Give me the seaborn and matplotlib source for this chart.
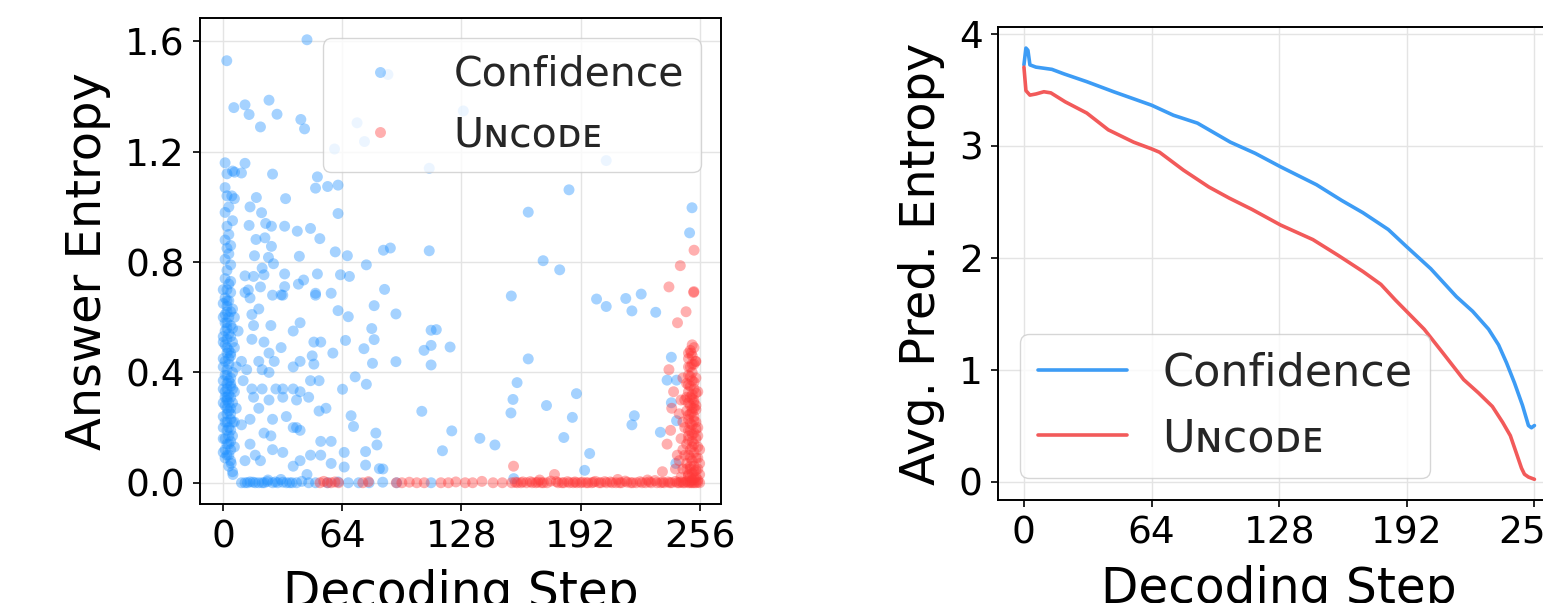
import pandas as pd
import seaborn as sns
import matplotlib
matplotlib.use("Agg")
import matplotlib.pyplot as plt

# ---- scatter data: (decoding step, answer entropy) ----
conf_points = [
    # dense column right at the start
    (1, 0.74), (3, 0.72), (2, 0.70), (4, 0.69), (1, 0.67), (3, 0.66), (2, 0.64), (5, 0.63),
    (1, 0.61), (3, 0.60), (2, 0.58), (4, 0.57), (1, 0.55), (3, 0.54), (2, 0.52), (5, 0.51),
    (1, 0.50), (3, 0.48), (2, 0.47), (4, 0.46), (1, 0.44), (3, 0.43), (2, 0.41), (5, 0.40),
    (1, 0.39), (3, 0.37), (2, 0.36), (4, 0.35), (1, 0.33), (3, 0.32), (2, 0.30), (5, 0.29),
    (1, 0.28), (3, 0.26), (2, 0.25), (4, 0.23), (1, 0.22), (3, 0.20), (2, 0.19), (5, 0.17),
    (1, 0.16), (3, 0.14), (4, 0.12), (2, 0.10), (4, 0.08), (3, 0.06), (5, 0.04), (2, 0.31),
    (4, 0.38), (0, 0.45), (0, 0.53), (5, 0.56), (0, 0.34), (0, 0.20), (4, 0.27), (1, 0.12),
    (6, 0.49), (6, 0.33), (7, 0.42), (6, 0.22), (2, 0.77), (4, 0.79), (1, 0.81), (3, 0.83),
    (2, 0.85), (4, 0.86), (1, 0.88), (3, 0.90), (2, 0.93), (5, 0.95), (1, 0.98), (3, 1.00),
    (2, 1.04), (1, 1.07), (2, 1.12), (1, 1.16), (5, 1.13), (6, 1.03), (4, 0.73), (4.3, 0.07),
    (5.2, 0.03), (0, 0.70), (2, 0.66), (4, 0.62), (0, 0.60), (2, 0.56), (4, 0.53), (0, 0.51),
    (2, 0.49), (4, 0.47), (0, 0.42), (2, 0.39), (4, 0.36), (0, 0.37), (2, 0.34), (4, 0.31),
    (0, 0.29), (2, 0.27), (4, 0.25), (0, 0.24), (2, 0.22), (4, 0.19), (0, 0.16), (2, 0.14),
    (4, 0.15), (0, 0.11), (3, 0.10), (1, 0.09), (6, 0.60), (7, 0.27), (6, 0.13), (8, 0.55),
    (1, 0.58), (3, 0.45), (5, 0.34), (3, 0.29), (5, 0.22), (1, 0.31), (3, 0.17), (0, 0.65),
    (2, 0.62),
    # upper scattered points
    (1.9, 1.53), (45, 1.606), (88.5, 1.48), (5.7, 1.36), (11.7, 1.37), (13.9, 1.335),
    (24.6, 1.387), (28.9, 1.336), (20, 1.29), (41.7, 1.317), (43.7, 1.283), (71.9, 1.305),
    (75.9, 1.237), (129, 1.348), (59.8, 1.21), (205.8, 1.168), (110.7, 1.14), (11.7, 1.158),
    (6.1, 1.126), (9.8, 1.123), (26.5, 1.119), (50.6, 1.109), (49.6, 1.068), (56.1, 1.074),
    (61.7, 1.079), (4.6, 1.04), (17.8, 1.034), (33.5, 1.03), (185.8, 1.062), (14.4, 1.0),
    (20.6, 0.979), (61.7, 0.976), (163.9, 0.981), (251.9, 0.997), (13.9, 0.933), (22.8, 0.94),
    (25.9, 0.93), (33, 0.93), (39.8, 0.912), (46.9, 0.922), (250.6, 0.906), (17.6, 0.882),
    (22.4, 0.888), (25.9, 0.857), (16.8, 0.823), (24.3, 0.817), (27, 0.794), (20.9, 0.778),
    (33, 0.757), (40.9, 0.821), (51.9, 0.885), (60.2, 0.837), (66.7, 0.823), (86.1, 0.843),
    (89.8, 0.851), (110.7, 0.841), (171.9, 0.805), (180.8, 0.772), (76.9, 0.79),
    (154.8, 0.677), (200.6, 0.666), (216.3, 0.668), (224.6, 0.684), (86.7, 0.701), (58, 0.687),
    (49.6, 0.687), (63, 0.754), (67.8, 0.748), (50.6, 0.757), (43.2, 0.735), (33, 0.711),
    (11.7, 0.75), (16.3, 0.748), (21.9, 0.754), (31.1, 0.681), (13.5, 0.699),
    # middle / right scattered points
    (219.6, 0.623), (205.8, 0.639), (232.4, 0.618), (81.1, 0.642), (92.8, 0.612), (61.7, 0.624),
    (67.2, 0.602), (111.7, 0.553), (114.5, 0.555), (79.8, 0.559), (81.1, 0.519), (65.7, 0.516),
    (75.6, 0.486), (80.2, 0.433), (92.8, 0.439), (107.9, 0.48), (111.7, 0.498), (121.9, 0.492),
    (111.7, 0.427), (163.9, 0.449), (240.8, 0.455), (238.5, 0.372), (243.6, 0.372), (70.9, 0.384),
    (76.9, 0.357), (64.1, 0.339), (157.9, 0.363), (155.7, 0.302), (189.8, 0.323), (173.7, 0.28),
    (154.6, 0.253), (187.6, 0.237), (106.7, 0.259), (68.7, 0.243), (70, 0.204), (220.9, 0.243),
    (219.6, 0.21), (240.8, 0.29), (243.6, 0.225), (234.9, 0.183), (122.8, 0.188), (82, 0.18),
    (82.6, 0.137), (76.5, 0.113), (137.9, 0.161), (146, 0.137), (183, 0.164), (117.8, 0.116),
    (196.9, 0.106), (194.2, 0.045), (156.1, 0.015), (65, 0.11), (65, 0.057), (76.5, 0.064),
    (83.9, 0.051), (85.8, 0.05), (243.2, 0.07),
    # cloud between steps 8 and 60
    (11.7, 0.69), (14.4, 0.67), (20, 0.71), (26.5, 0.68), (32, 0.68), (40.4, 0.72), (49.6, 0.68),
    (15.4, 0.61), (19.1, 0.63), (25.6, 0.57), (16.3, 0.57), (37.6, 0.55), (41.3, 0.58),
    (48.7, 0.51), (52.4, 0.51), (58.9, 0.47), (15.4, 0.52), (21.9, 0.51), (24.6, 0.47),
    (31.1, 0.49), (27.4, 0.44), (19.1, 0.44), (9.8, 0.44), (12.6, 0.41), (20.9, 0.41),
    (24.6, 0.40), (37.6, 0.42), (41.3, 0.44), (47.8, 0.46), (48.7, 0.43), (10.7, 0.37),
    (15.4, 0.34), (20.9, 0.34), (28.3, 0.34), (32, 0.34), (37.6, 0.34), (41.3, 0.33),
    (46.9, 0.37), (51.5, 0.37), (16.3, 0.31), (24.6, 0.30), (32, 0.31), (39.4, 0.30),
    (45.9, 0.31), (19.1, 0.27), (14.4, 0.23), (26.5, 0.23), (33.9, 0.24), (39.4, 0.20),
    (51.5, 0.26), (55.2, 0.27), (9.8, 0.21), (21.9, 0.18), (25.6, 0.17), (37.6, 0.20),
    (41.3, 0.19), (52.4, 0.15), (58, 0.15), (14.4, 0.14), (17.2, 0.10), (26.5, 0.12),
    (32, 0.11), (41.3, 0.08), (46.9, 0.10), (52.4, 0.10), (58, 0.07), (11.7, 0.08),
    (20, 0.08), (37.6, 0.06), (45, 0.03),
    # bottom row
    (9.8, 0.0), (11.7, 0.0), (14.4, 0.003), (17.2, 0.0), (20.9, 0.0), (23.7, 0.004),
    (26.5, 0.0), (29.3, 0.0), (32, 0.002), (35.7, 0.0), (39.4, 0.0), (42.2, 0.005),
    (45.9, 0.0), (49.6, 0.0), (56.1, 0.0), (61.7, 0.003), (67.2, 0.0), (72.8, 0.0),
    (78.4, 0.0), (85.7, 0.002), (93.2, 0.0), (111.7, 0.0), (24, 0.01), (31, 0.012),
    (13, 0.0), (16, 0.002), (19, 0.0), (22, 0.0), (28, 0.003), (34, 0.0), (37, 0.0),
]

uncode_points = [
    # bottom row
    (52, 0.0), (54, 0.005), (56, 0.0), (58, 0.0), (60, 0.003), (62, 0.0), (75, 0.0),
    (78, 0.004), (93, 0.0), (96, 0.0), (100, 0.002), (104, 0.0), (108, 0.0), (117, 0.0),
    (121, 0.0), (125, 0.003), (130, 0.0), (134, 0.0), (139, 0.005), (145, 0.0), (150, 0.0),
    (155, 0.0), (157, 0.002), (160, 0.0), (163, 0.0), (165, 0.004), (168, 0.0), (171, 0.0),
    (174, 0.0), (176, 0.006), (178, 0.03), (180, 0.0), (183, 0.0), (185, 0.004), (188, 0.0),
    (190, 0.0), (193, 0.002), (195, 0.0), (198, 0.0), (200, 0.005), (203, 0.0), (206, 0.0),
    (208, 0.003), (211, 0.0), (214, 0.0), (216, 0.006), (219, 0.0), (222, 0.0), (224, 0.004),
    (227, 0.0), (230, 0.0), (232, 0.008), (235, 0.0), (237, 0.0), (239, 0.003), (241, 0.0),
    (243, 0.005), (245, 0.0), (247, 0.0), (249, 0.004), (251, 0.0), (253, 0.0), (255, 0.002),
    (256, 0.0), (170, 0.01), (212, 0.012), (228, 0.01), (250, 0.0), (252, 0.0), (254, 0.0),
    (158, 0.0), (161, 0.003), (166, 0.0), (169, 0.002), (172, 0.0), (179, 0.004), (182, 0.0),
    (186, 0.0), (189, 0.003), (192, 0.0), (196, 0.0), (199, 0.002), (202, 0.0), (205, 0.004),
    (209, 0.0), (213, 0.0), (217, 0.002), (220, 0.0), (225, 0.0), (229, 0.003), (233, 0.0),
    (236, 0.002), (240, 0.0), (244, 0.0), (246, 0.003), (248, 0.0),
    # column at the end of decoding
    (252, 0.01), (254, 0.02), (250, 0.03), (253, 0.04), (255, 0.05), (251, 0.06), (249, 0.07),
    (252, 0.08), (254, 0.09), (250, 0.10), (253, 0.11), (251, 0.12), (255, 0.13), (249, 0.14),
    (252, 0.15), (254, 0.16), (250, 0.17), (253, 0.18), (251, 0.19), (248, 0.20), (252, 0.21),
    (254, 0.22), (250, 0.23), (253, 0.24), (251, 0.25), (249, 0.26), (252, 0.27), (254, 0.28),
    (250, 0.29), (253, 0.30), (251, 0.31), (252, 0.32), (250, 0.33), (253, 0.34), (251, 0.35),
    (249, 0.36), (252, 0.37), (254, 0.38), (250, 0.39), (252, 0.40), (251, 0.42), (253, 0.43),
    (250, 0.45), (252, 0.46), (251, 0.48), (253, 0.49), (246, 0.02), (247, 0.05), (245, 0.08),
    (247, 0.12), (246, 0.16), (244, 0.10), (255, 0.01), (256, 0.03), (256, 0.07), (255, 0.20),
    (256, 0.12), (248, 0.30), (247, 0.38), (255, 0.33), (254, 0.44), (245, 0.25), (243, 0.05),
    (251, 0.02), (253, 0.06), (252, 0.13), (250, 0.19), (253, 0.27), (251, 0.05),
    (251, 0.005), (253, 0.015), (250, 0.025), (252, 0.035), (254, 0.045), (251, 0.09),
    (253, 0.14), (250, 0.155), (252, 0.175), (254, 0.195), (251, 0.215), (253, 0.225),
    (250, 0.245), (252, 0.255), (254, 0.265), (251, 0.28), (253, 0.29), (249, 0.31),
    (252, 0.305), (254, 0.325), (250, 0.355), (253, 0.365), (251, 0.385), (252, 0.43),
    (250, 0.47), (255, 0.09), (255, 0.17), (248, 0.10), (249, 0.05), (247, 0.22), (246, 0.30),
    # scattered above
    (239.5, 0.41), (241, 0.27), (238.5, 0.14), (240.4, 0.19), (244.1, 0.58), (248.7, 0.62),
    (252.8, 0.69), (239.5, 0.71), (245.6, 0.787), (253, 0.843), (252.9, 0.693), (156, 0.06),
    (242, 0.33), (236, 0.04), (251.5, 0.47), (253.8, 0.44), (250, 0.42), (252, 0.50),
]

# ---- line data: average predictive entropy per decoding step ----
conf_curve_step = [0, 1, 2, 3, 6, 10, 14, 20, 31.5, 45, 64, 75, 87, 103.5, 116, 128.7, 146.7,
                   159.3, 170, 182.7, 191.7, 204, 216.9, 225, 233, 238, 242, 246, 250, 253,
                   254.5, 256]
conf_curve_val = [3.72, 3.87, 3.85, 3.72, 3.70, 3.69, 3.68, 3.64, 3.57, 3.48, 3.36, 3.27, 3.20,
                  3.03, 2.93, 2.81, 2.65, 2.51, 2.40, 2.25, 2.10, 1.90, 1.65, 1.52, 1.36, 1.22,
                  1.06, 0.88, 0.68, 0.50, 0.48, 0.50]
uncode_curve_step = [0, 1, 3, 6, 10, 13.5, 20.7, 31.5, 42.3, 55, 64, 68, 80, 92.7, 103, 114.3,
                     128.7, 144.9, 157.5, 170, 179, 186.3, 200.7, 210, 220.5, 228, 234.9, 240,
                     243.9, 247, 249.5, 251, 253, 256]
uncode_curve_val = [3.70, 3.49, 3.45, 3.46, 3.48, 3.47, 3.39, 3.29, 3.14, 3.03, 2.97, 2.94, 2.78,
                    2.63, 2.53, 2.43, 2.29, 2.16, 2.02, 1.875, 1.76, 1.62, 1.36, 1.15, 0.91, 0.79,
                    0.67, 0.53, 0.41, 0.25, 0.12, 0.065, 0.04, 0.02]

method_names = ["Confidence", "U\u0274\u1d04\u1d0f\u1d05\u1d07"]
scatter_colors = ["#1e90ff", "#ff3838"]
line_colors = ["#3d9cf5", "#f25a5a"]
step_ticks = [0, 64, 128, 192, 256]

sns.set_theme(style="whitegrid", rc={
    "axes.edgecolor": "black",
    "axes.linewidth": 1.4,
    "grid.color": "#e4e4e4",
    "grid.linewidth": 1.0,
    "xtick.bottom": True,
    "ytick.left": True,
    "xtick.major.size": 5,
    "ytick.major.size": 5,
    "xtick.major.width": 1.2,
    "ytick.major.width": 1.2,
    "xtick.major.pad": 6,
    "ytick.major.pad": 6,
    "xtick.color": "black",
    "ytick.color": "black",
    "axes.labelcolor": "black",
})
plt.rcParams["font.family"] = ["DejaVu Sans"]

scatter_df = pd.concat([
    pd.DataFrame(conf_points, columns=["step", "entropy"]).assign(method=method_names[0]),
    pd.DataFrame(uncode_points, columns=["step", "entropy"]).assign(method=method_names[1]),
], ignore_index=True)

line_df = pd.concat([
    pd.DataFrame({"step": conf_curve_step, "entropy": conf_curve_val, "method": method_names[0]}),
    pd.DataFrame({"step": uncode_curve_step, "entropy": uncode_curve_val, "method": method_names[1]}),
], ignore_index=True)

fig = plt.figure(figsize=(15.43, 6.03), dpi=100)
ax1 = fig.add_axes([0.1296, 0.1642, 0.3377, 0.806])
ax2 = fig.add_axes([0.6468, 0.1708, 0.3642, 0.7844])

# left: answer entropy scatter
sns.scatterplot(data=scatter_df, x="step", y="entropy", hue="method",
                hue_order=method_names, palette=scatter_colors, s=62, alpha=0.4,
                linewidth=0, ax=ax1)
ax1.set_xlim(-12.5, 267.5)
ax1.set_ylim(-0.077, 1.685)
ax1.set_xticks(step_ticks)
ax1.set_yticks([0.0, 0.4, 0.8, 1.2, 1.6])
ax1.set_yticklabels(["0.0", "0.4", "0.8", "1.2", "1.6"])
ax1.set_xlabel("Decoding Step", fontsize=35, labelpad=10)
ax1.set_ylabel("Answer Entropy", fontsize=34.5, labelpad=10)
ax1.tick_params(labelsize=27)
sns.move_legend(ax1, "upper right", title=None, fontsize=29.5, frameon=True,
                framealpha=0.8, edgecolor="#cccccc")

# right: average predictive entropy
sns.lineplot(data=line_df, x="step", y="entropy", hue="method", hue_order=method_names,
             palette=line_colors, linewidth=2.6, ax=ax2)
ax2.set_xlim(-13, 268.8)
ax2.set_ylim(-0.165, 4.058)
ax2.set_xticks(step_ticks)
ax2.set_yticks([0, 1, 2, 3, 4])
ax2.set_xlabel("Decoding Step", fontsize=35, labelpad=10)
ax2.set_ylabel("Avg. Pred. Entropy", fontsize=34.5, labelpad=10)
ax2.tick_params(labelsize=27)
sns.move_legend(ax2, "lower left", title=None, fontsize=32, frameon=True,
                framealpha=0.8, edgecolor="#cccccc")

for ax in (ax1, ax2):
    ax.grid(True)
    for sp in ax.spines.values():
        sp.set_color("black")

fig.savefig("out.png", dpi=100)
